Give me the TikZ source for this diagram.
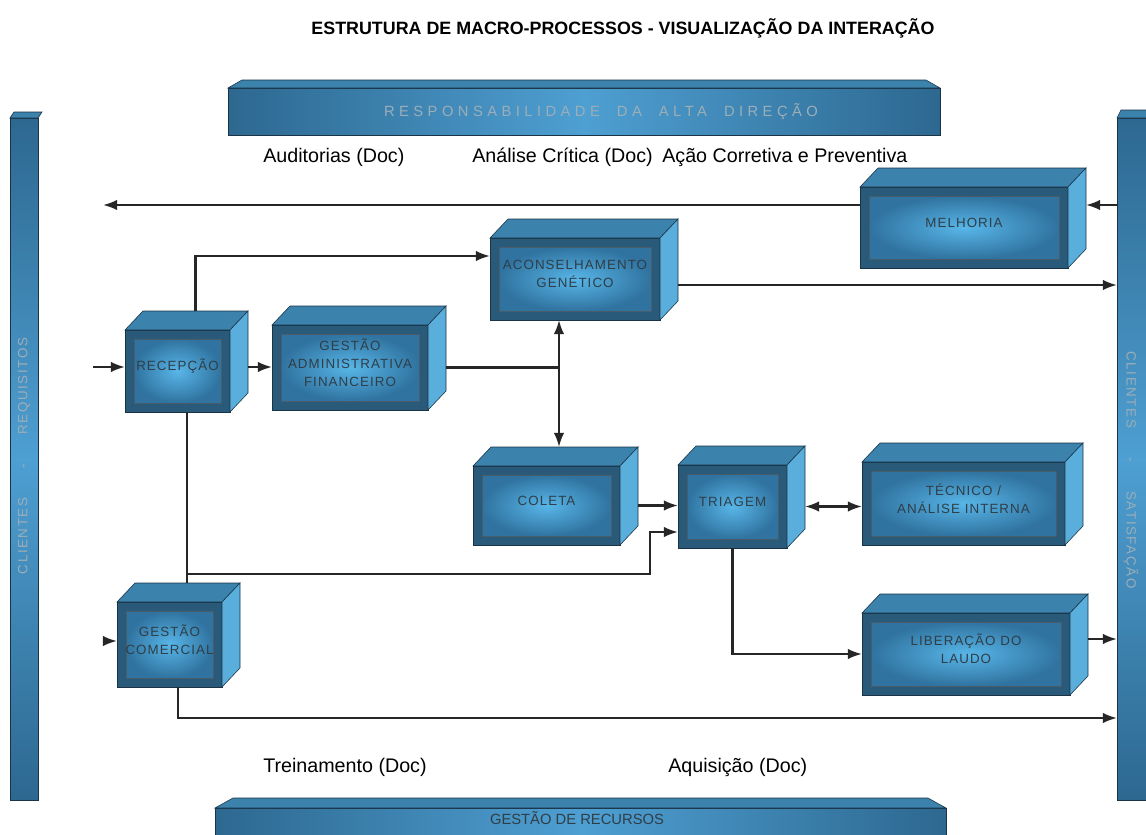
\documentclass[tikz,border=0pt]{standalone}
\usepackage{fontspec}
\setmainfont{Liberation Sans}
\usetikzlibrary{arrows.meta,calc}
\definecolor{caixaescura}{HTML}{2A5A7A}
\definecolor{caixaborda}{HTML}{1A3345}
\definecolor{caixaclara}{HTML}{58B6E8}
\definecolor{caixamedia}{HTML}{3073A0}
\definecolor{caixatopo}{HTML}{3B82AD}
\definecolor{caixalado}{HTML}{5AAEDB}
\definecolor{barraescura}{HTML}{2D6890}
\definecolor{barraclara}{HTML}{4E9FD2}
\definecolor{textocaixa}{HTML}{2F3E47}
\definecolor{textobarra}{HTML}{9CAEB8}
\tikzset{
 frente/.style={draw=caixaborda, line width=0.6pt, fill=caixaescura, inner sep=0pt, outer sep=0pt},
 topo/.style={draw=caixaborda, line width=0.4pt, fill=caixatopo},
 lado/.style={draw=caixaborda, line width=0.4pt, fill=caixalado},
 rotulo/.style={text=textocaixa, font=\fontsize{9.5}{13}\selectfont\addfontfeature{LetterSpace=8}, align=center, inner sep=0pt},
 barrafrente/.style={draw=caixaborda, line width=0.6pt, inner sep=0pt, outer sep=0pt},
 textobar/.style={text=textobarra, font=\fontsize{10.5}{12}\selectfont\addfontfeature{LetterSpace=30}, inner sep=0pt},
 seta/.style={draw=black!85, line width=1.7pt, -{Latex[length=10pt,width=7.5pt]}},
 dupla/.style={seta, {Latex[length=10pt,width=7.5pt]}-{Latex[length=10pt,width=7.5pt]}},
 linha/.style={draw=black!85, line width=1.7pt},
 nota/.style={font=\fontsize{14}{16}\selectfont, anchor=west, inner sep=0pt},
}
\newcommand{\processo}[5]{%
 \node[frente, minimum width=#3*0.025cm, minimum height=#4*0.025cm] (#1) at (#2) {};%
 \filldraw[topo] (#1.north west) -- ++(18,-19) -- ([shift={(18,-19)}]#1.north east) -- (#1.north east) -- cycle;%
 \filldraw[lado] (#1.north east) -- ++(18,-19) -- ([shift={(18,-19)}]#1.south east) -- (#1.south east) -- cycle;%
 \shade[inner color=caixaclara, outer color=caixamedia, draw=caixaborda!80, line width=0.4pt] ([shift={(9,-9)}]#1.south west) rectangle ([shift={(-9,9)}]#1.north east);%
 \coordinate (#1-r) at ([shift={(18,0)}]#1.east);%
 \coordinate (#1-t) at ([shift={(18,-19)}]#1.north);%
 \node[rotulo] (#1-txt) at ([shift={(0,-5)}]#1.center) {#5};%
}
\begin{document}
\begin{tikzpicture}[x=0.025cm, y=-0.025cm]
 \useasboundingbox (0,0) rectangle (1146,835);
 \fill[white] (0,0) rectangle (1146,835);
 \node[font=\fontsize{12.7}{15}\selectfont\bfseries, inner sep=0pt] (titulo) at (623,28) {ESTRUTURA DE MACRO-PROCESSOS - VISUALIZAÇÃO DA INTERAÇÃO};

 \node[barrafrente, minimum width=712*0.025cm, minimum height=47*0.025cm] (alta) at (584,111.5) {};
 \shade[left color=barraescura, right color=barraescura, middle color=barraclara, draw=caixaborda, line width=0.6pt] (alta.south west) rectangle (alta.north east);
 \filldraw[topo] (alta.north west) -- ++(14,-8) -- ([shift={(-14,-8)}]alta.north east) -- (alta.north east) -- cycle;
 \node[textobar] (alta-txt) at (601,112) {RESPONSABILIDADE \ DA \ ALTA \ DIREÇÃO};

 \node[barrafrente, minimum width=731*0.025cm, minimum height=37*0.025cm] (recursos) at (580.5,826.5) {};
 \shade[left color=barraescura, right color=barraescura, middle color=barraclara, draw=caixaborda, line width=0.6pt] (recursos.south west) rectangle (recursos.north east);
 \filldraw[topo] (recursos.north west) -- ++(18,-10) -- ([shift={(-18,-10)}]recursos.north east) -- (recursos.north east) -- cycle;
 \node[textobar, text=textocaixa, font=\fontsize{10.5}{12}\selectfont] (recursos-txt) at (577,818) {GESTÃO DE RECURSOS};

 \node[barrafrente, minimum width=28*0.025cm, minimum height=682*0.025cm] (esq) at (24,459) {};
 \shade[top color=barraescura, bottom color=barraescura, middle color=barraclara, draw=caixaborda, line width=0.6pt] (esq.south west) rectangle (esq.north east);
 \filldraw[topo] (esq.north west) -- ++(4,-6) -- ([shift={(4,-6)}]esq.north east) -- (esq.north east) -- cycle;
 \node[textobar, rotate=90, font=\fontsize{9.5}{11}\selectfont\addfontfeature{LetterSpace=12}] (esq-txt) at (24,456) {CLIENTES\hspace{2.2em}-\hspace{2.2em}REQUISITOS};

 \node[barrafrente, minimum width=33*0.025cm, minimum height=682*0.025cm] (dir) at (1133.5,459) {};
 \shade[top color=barraescura, bottom color=barraescura, middle color=barraclara, draw=caixaborda, line width=0.6pt] (dir.south west) rectangle (dir.north east);
 \filldraw[topo] (dir.north west) -- ++(4,-8) -- ([shift={(4,-8)}]dir.north east) -- (dir.north east) -- cycle;
 \node[textobar, rotate=-90, font=\fontsize{9.5}{11}\selectfont\addfontfeature{LetterSpace=12}] (dir-txt) at (1131,470) {CLIENTES\hspace{2.2em}-\hspace{2.2em}SATISFAÇÃO};

 \processo{recepcao}{177.5,371}{105}{82}{RECEPÇÃO}
 \processo{gestadm}{350,367.5}{156}{85}{GESTÃO\\ADMINISTRATIVA\\FINANCEIRO}
 \processo{aconselh}{575,279}{170}{82}{ACONSELHAMENTO\\GENÉTICO}
 \processo{melhoria}{964,227.5}{208}{81}{MELHORIA}
 \processo{coleta}{546.5,505.5}{147}{79}{COLETA}
 \processo{triagem}{732.5,506.5}{109}{83}{TRIAGEM}
 \processo{tecnico}{963.5,503.5}{203}{83}{TÉCNICO /\\ANÁLISE INTERNA}
 \processo{liberacao}{966,654}{208}{82}{LIBERAÇÃO DO\\LAUDO}
 \processo{gestcom}{169.5,644.5}{105}{85}{GESTÃO\\COMERCIAL}

 \coordinate (entrada) at (93,367);
 \coordinate (retorno) at (103,205);
 \coordinate (nivel) at (0,205);
 \coordinate (eixo) at (559,0);
 \coordinate (no) at (187,574);
 \coordinate (desvio) at (650,532);
 \coordinate (entrada2) at (103,641);
 \coordinate (base) at (178,718);
 \coordinate (saida-acons) at ([shift={(0,6)}]aconselh-r);
 \coordinate (saida-lib) at ([shift={(0,-15)}]liberacao-r);

 \draw[seta] (entrada) -- (entrada -| recepcao.west);
 \draw[seta] (recepcao-r |- entrada) -- (entrada -| gestadm.west);
 \draw[seta] (recepcao-t) |- ([shift={(0,18)}]aconselh.north west);
 \draw[linha] (gestadm-r) -- (gestadm-r -| eixo);
 \draw[dupla] (aconselh.south -| eixo) -- (coleta-t -| eixo);
 \draw[seta] (saida-acons) -- (saida-acons -| dir.west);
 \draw[seta] (nivel -| dir.west) -- (nivel -| melhoria-r);
 \draw[seta] (nivel -| melhoria.west) -- (retorno);
 \draw[seta] (coleta-r) -- (coleta-r -| triagem.west);
 \draw[seta] (recepcao.south -| no) -- (no) -| (desvio) -- (desvio -| triagem.west);
 \draw[linha] (gestcom-t -| no) -- (no);
 \draw[seta] (entrada2) -- (entrada2 -| gestcom.west);
 \draw[seta] (gestcom.south -| base) -- (base) -- (base -| dir.west);
 \draw[seta] (triagem.south) |- (liberacao.west);
 \draw[dupla] (triagem-r) -- (triagem-r -| tecnico.west);
 \draw[seta] (saida-lib) -- (saida-lib -| dir.west);

 \node[nota] (auditorias) at (263,157) {Auditorias (Doc)};
 \node[nota] (analise) at (472,157) {Análise Crítica (Doc)};
 \node[nota] (acao) at (662,157) {Ação Corretiva e Preventiva};
 \node[nota] (treinamento) at (263,767) {Treinamento (Doc)};
 \node[nota] (aquisicao) at (668,767) {Aquisição (Doc)};
\end{tikzpicture}
\end{document}
